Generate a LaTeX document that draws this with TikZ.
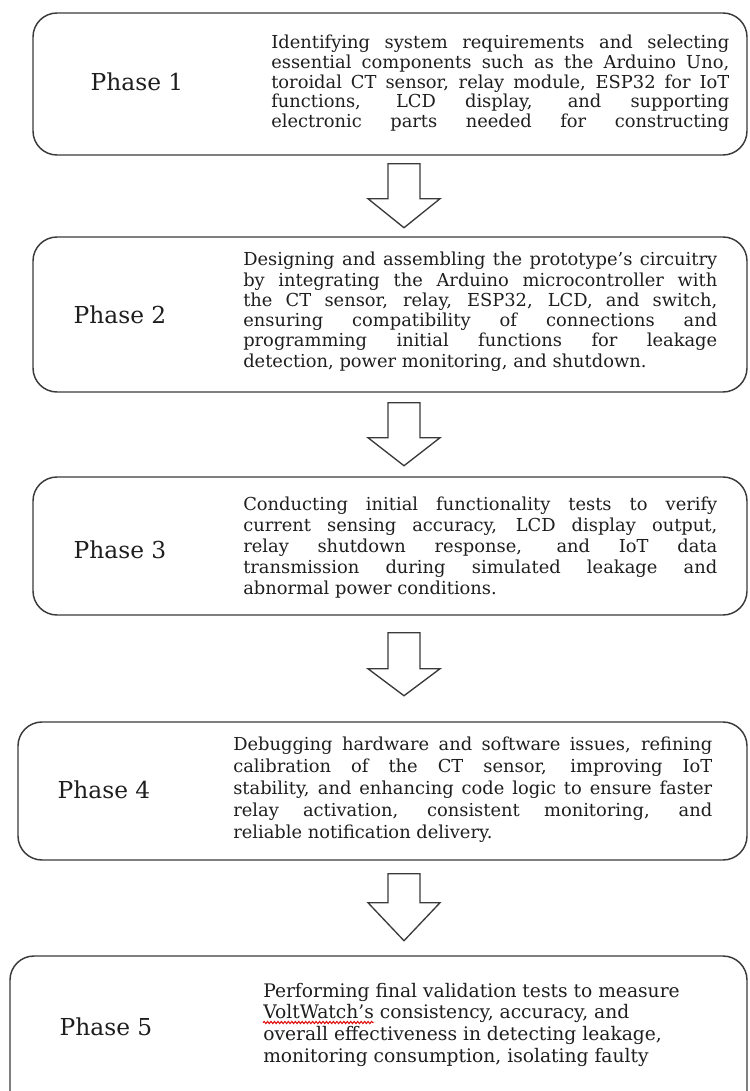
\documentclass[tikz,border=0pt]{standalone}
\usepackage{fontspec}
\setmainfont{DejaVu Serif}
\usetikzlibrary{calc,decorations.pathmorphing}
\definecolor{boxgray}{HTML}{3A3A3A}
\definecolor{textblack}{HTML}{1E1E1E}
\definecolor{spellred}{HTML}{E01010}
\newlength\vwlen
\tikzset{
  phasebox/.style={draw=boxgray, line width=1.1pt, rounded corners=18pt, inner sep=0pt},
  phaselabel/.style={font=\fontsize{17.5}{20}\selectfont, text=textblack, inner sep=0pt},
  desc/.style={anchor=north west, inner sep=0pt, align=justify, text=textblack},
  descline/.style={anchor=base west, inner sep=0pt, text=textblack, font=\fontsize{14}{16}\selectfont},
  blockarrow/.style={draw=boxgray, line width=1pt, fill=white, line join=miter},
  spellmark/.style={draw=spellred, line width=0.8pt, decorate, decoration={snake, amplitude=0.8pt, segment length=2.6pt}}
}
\begin{document}
\settowidth\vwlen{\fontsize{14}{16}\selectfont VoltWatch’s}%
\begin{tikzpicture}[x=0.75pt,y=-0.75pt]
\useasboundingbox (0,0) rectangle (749,1091);
\coordinate (ax) at (404,0);

% boxes
\node[phasebox, minimum width={714*0.75pt}, minimum height={142*0.75pt}] (b1) at (390,84) {};
\node[phasebox, minimum width={714*0.75pt}, minimum height={155*0.75pt}] (b2) at (390,314.5) {};
\node[phasebox, minimum width={714*0.75pt}, minimum height={138*0.75pt}] (b3) at (390,546) {};
\node[phasebox, minimum width={729*0.75pt}, minimum height={138*0.75pt}] (b4) at (382.5,791) {};
\node[phasebox, minimum width={737*0.75pt}, minimum height={164*0.75pt}] (b5) at (378.5,1038) {};

% phase labels
\node[phaselabel] (p1) at (137,82) {Phase 1};
\node[phaselabel] (p2) at (120,315) {Phase 2};
\node[phaselabel] (p3) at (120,550) {Phase 3};
\node[phaselabel] (p4) at (104,790) {Phase 4};
\node[phaselabel] (p5) at (106,1027) {Phase 5};

% descriptions
\node[desc, text width={458*0.75pt}, font=\fontsize{13.4}{14.7}\selectfont] (t1) at (271,35)
{{\parfillskip=0pt Identifying system requirements and selecting\linebreak
essential components such as the Arduino Uno,\linebreak
toroidal CT sensor, relay module, ESP32 for IoT\linebreak
functions, LCD display, and supporting\linebreak
electronic parts needed for constructing\par}};

\node[desc, text width={474*0.75pt}, font=\fontsize{13.4}{15.2}\selectfont] (t2) at (243,252)
{Designing and assembling the prototype’s circuitry\linebreak
by integrating the Arduino microcontroller with\linebreak
the CT sensor, relay, ESP32, LCD, and switch,\linebreak
ensuring compatibility of connections and\linebreak
programming initial functions for leakage\linebreak
detection, power monitoring, and shutdown.};

\node[desc, text width={474*0.75pt}, font=\fontsize{13.4}{15.6}\selectfont] (t3) at (243,497)
{Conducting initial functionality tests to verify\linebreak
current sensing accuracy, LCD display output,\linebreak
relay shutdown response, and IoT data\linebreak
transmission during simulated leakage and\linebreak
abnormal power conditions.};

\node[desc, text width={479*0.75pt}, font=\fontsize{13.4}{16.4}\selectfont] (t4) at (233,737)
{Debugging hardware and software issues, refining\linebreak
calibration of the CT sensor, improving IoT\linebreak
stability, and enhancing code logic to ensure faster\linebreak
relay activation, consistent monitoring, and\linebreak
reliable notification delivery.};

\node[descline] (t5a) at (263,997) {Performing final validation tests to measure};
\node[descline] (t5b) at (263,1018.5) {VoltWatch’s consistency, accuracy, and};
\node[descline] (t5c) at (263,1040) {overall effectiveness in detecting leakage,};
\node[descline] (t5d) at (263,1062) {monitoring consumption, isolating faulty};
\coordinate (sq1) at ([yshift=-3pt]t5b.base west);
\coordinate (sq2) at ([yshift=-3pt,xshift=\vwlen]t5b.base west);
\draw[spellmark] (sq1) -- (sq2);

% block arrows
\draw[blockarrow] ($(ax |- b1.south)+(-16,8)$) -- ++(32,0) -- ++(0,35) -- ++(20,0)
  -- ($(ax |- b1.south)+(0,72)$) -- ++(-36,-29) -- ++(20,0) -- cycle;
\draw[blockarrow] ($(ax |- b2.south)+(-16,10)$) -- ++(32,0) -- ++(0,35) -- ++(20,0)
  -- ($(ax |- b2.south)+(0,73)$) -- ++(-36,-28) -- ++(20,0) -- cycle;
\draw[blockarrow] ($(ax |- b3.south)+(-16,17)$) -- ++(32,0) -- ++(0,36) -- ++(20,0)
  -- ($(ax |- b3.south)+(0,80)$) -- ++(-36,-27) -- ++(20,0) -- cycle;
\draw[blockarrow] ($(ax |- b4.south)+(-16,13)$) -- ++(32,0) -- ++(0,29) -- ++(20,0)
  -- ($(ax |- b4.south)+(0,80)$) -- ++(-36,-38) -- ++(20,0) -- cycle;
\end{tikzpicture}
\end{document}
